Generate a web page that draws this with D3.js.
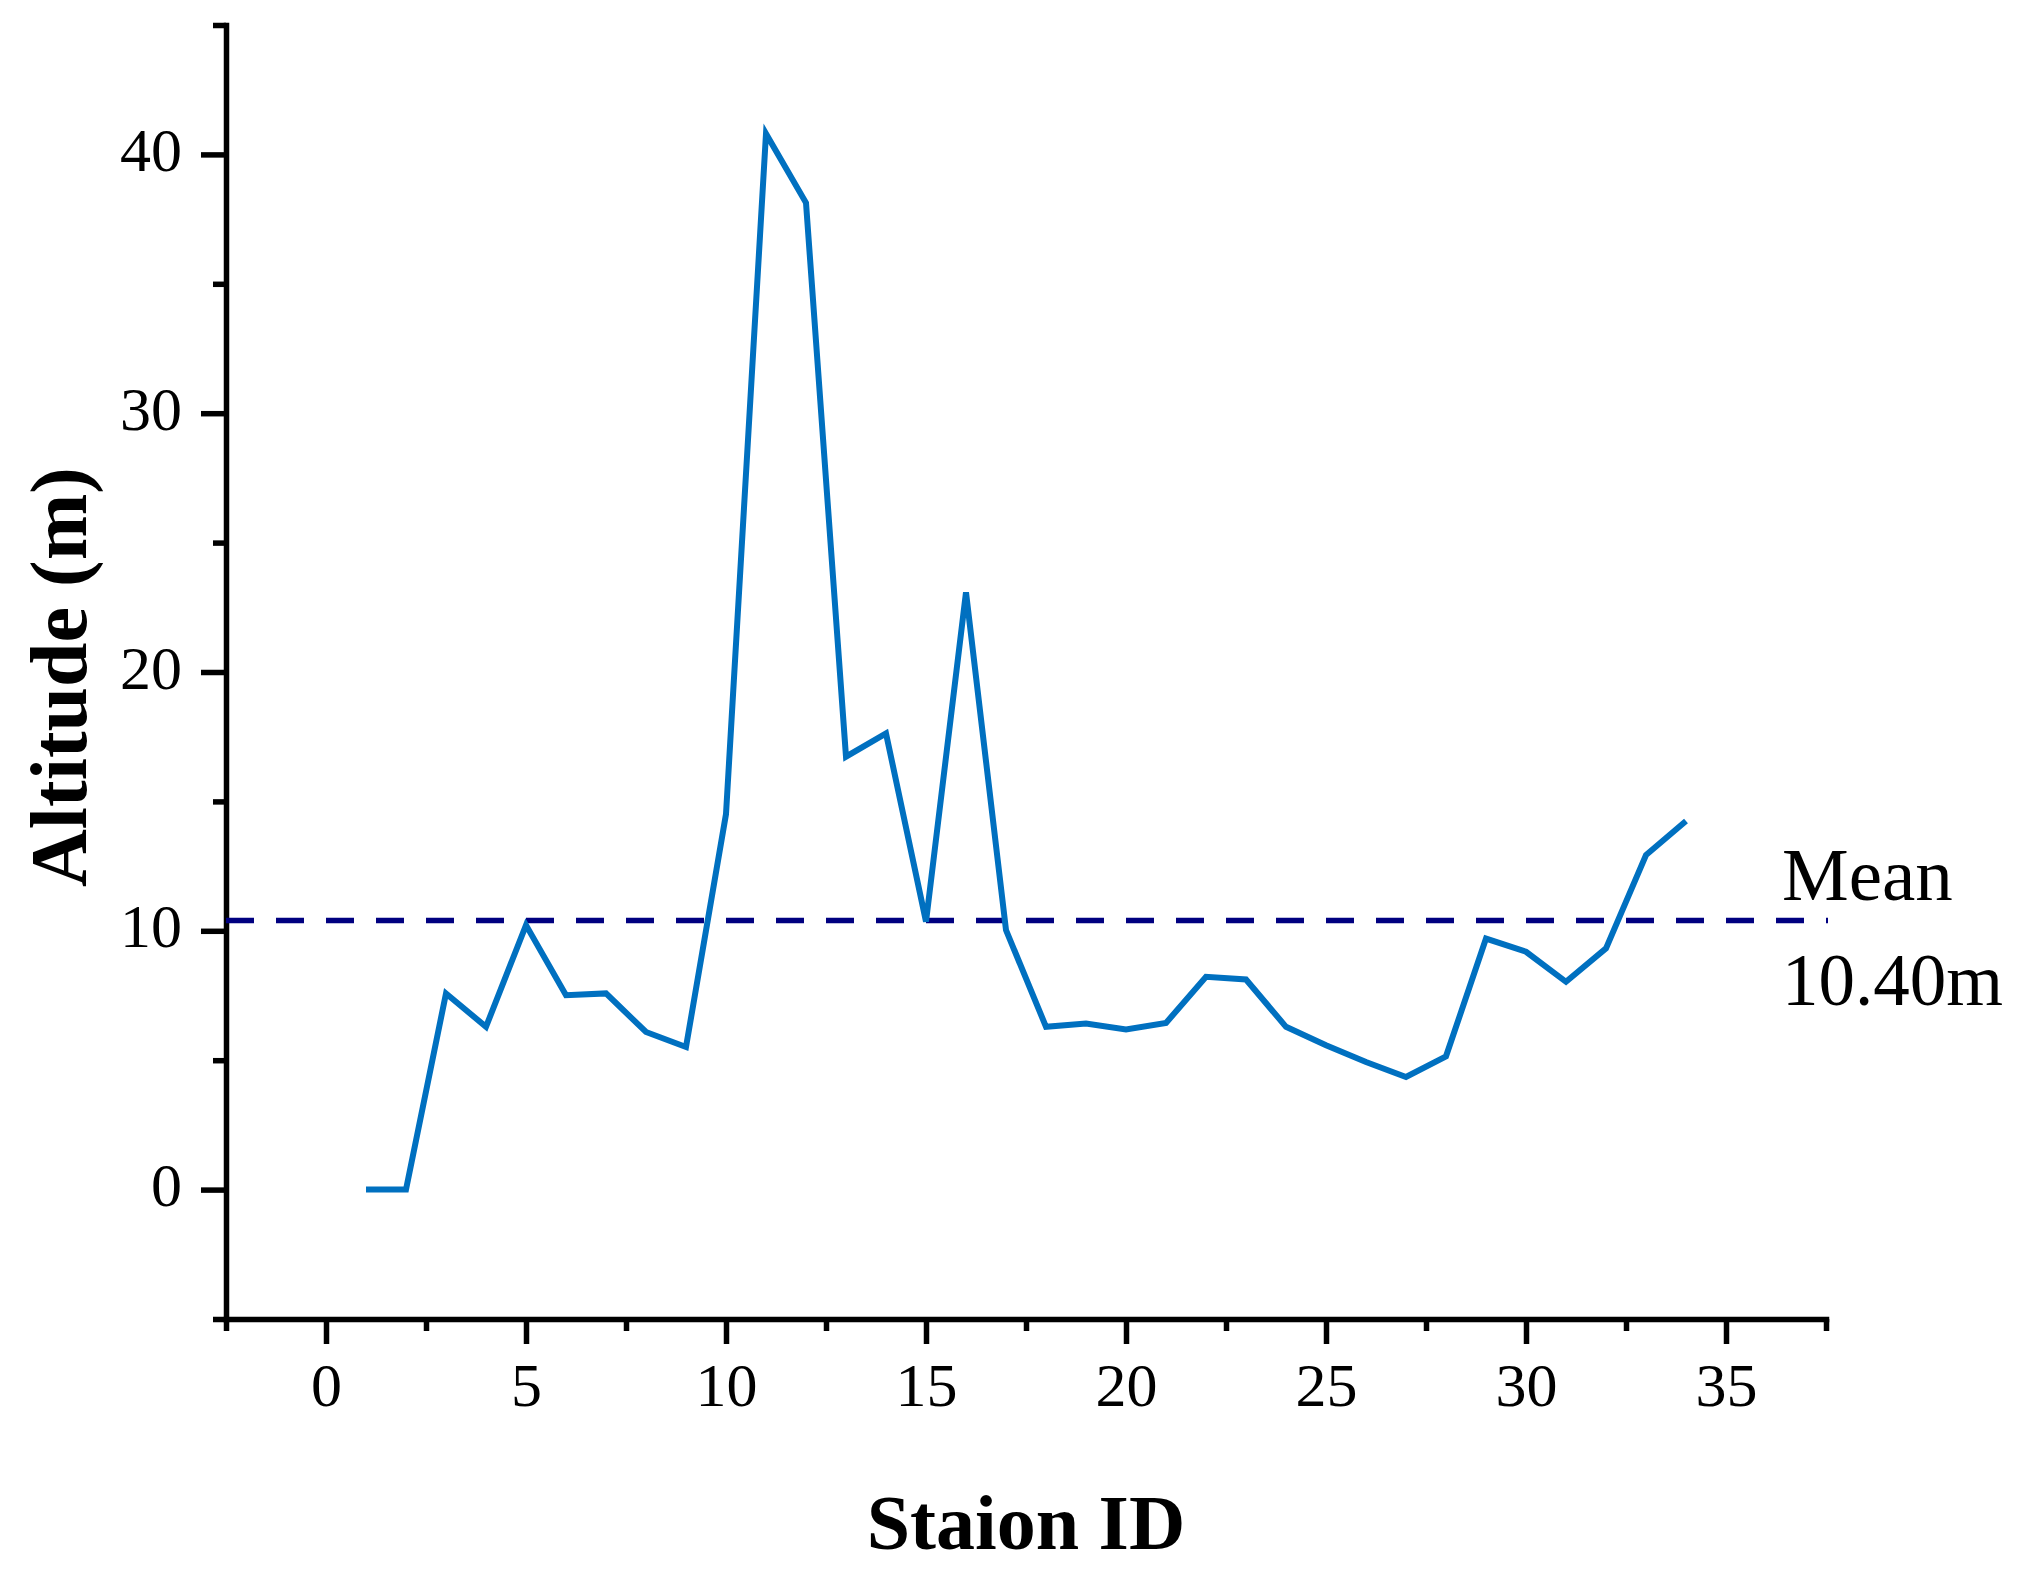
<!DOCTYPE html>
<html>
<head>
<meta charset="utf-8">
<script src="https://cdn.jsdelivr.net/npm/d3@7"></script>
<style>
  html, body { margin: 0; padding: 0; background: #ffffff; }
  svg { display: block; }
  text { font-family: "Palatino Linotype", "Book Antiqua", Palatino, "Liberation Serif", "DejaVu Serif", serif; fill: #000; }
</style>
</head>
<body>
<svg id="chart" width="2026" height="1579"></svg>
<script>
// ---- data ----
const stations = [1, 2, 3, 4, 5, 6, 7, 8, 9, 10, 11, 12, 13, 14, 15, 16, 17,
                  18, 19, 20, 21, 22, 23, 24, 25, 26, 27, 28, 29, 30, 31, 32, 33, 34];
const altitude = [0, 0, 7.58, 6.29, 10.22, 7.51, 7.58, 6.09, 5.51, 14.51, 40.8, 38.13,
                  16.73, 17.63, 10.35, 23.08, 10.03, 6.29, 6.42, 6.19, 6.44, 8.22, 8.12,
                  6.29, 5.58, 4.93, 4.35, 5.15, 9.70, 9.19, 8.03, 9.32, 12.93, 14.24];
const meanAltitude = 10.40;
const meanLabel = ["Mean", "10.40m"];
const xMajorTicks = [0, 5, 10, 15, 20, 25, 30, 35];
const xMinorTicks = [-2.5, 2.5, 7.5, 12.5, 17.5, 22.5, 27.5, 32.5, 37.5];
const yMajorTicks = [0, 10, 20, 30, 40];
const yMinorTicks = [-5, 5, 15, 25, 35, 45];
const xTitle = "Staion ID";
const yTitle = "Altitude (m)";

// ---- layout ----
const svg = d3.select("#chart");
const x = d3.scaleLinear().domain([-2.5, 37.5]).range([226, 1826]);
const y = d3.scaleLinear().domain([-5, 45]).range([1319, 25]);

const axisW = 5.5;

// X axis
const gx = svg.append("g").attr("transform", `translate(0,${y(-5)})`);
gx.call(d3.axisBottom(x).tickValues(xMajorTicks).tickSize(25).tickSizeOuter(0)
  .tickFormat(d3.format("d")));
const gxm = svg.append("g").attr("transform", `translate(0,${y(-5)})`);
gxm.call(d3.axisBottom(x).tickValues(xMinorTicks).tickSize(12).tickSizeOuter(0).tickFormat(""));
gxm.select(".domain").remove();

// Y axis
const gy = svg.append("g").attr("transform", `translate(${x(-2.5)},0)`);
gy.call(d3.axisLeft(y).tickValues(yMajorTicks).tickSize(25).tickSizeOuter(0)
  .tickFormat(d3.format("d")));
const gym = svg.append("g").attr("transform", `translate(${x(-2.5)},0)`);
gym.call(d3.axisLeft(y).tickValues(yMinorTicks).tickSize(13).tickSizeOuter(0).tickFormat(""));
gym.select(".domain").remove();

svg.selectAll(".domain").attr("stroke", "#000").attr("stroke-width", axisW)
  .attr("stroke-linecap", "square");
svg.selectAll(".tick line").attr("stroke", "#000").attr("stroke-width", axisW);

gx.selectAll(".tick text")
  .attr("font-size", 62).attr("y", 87).attr("dy", 0);
gy.selectAll(".tick text")
  .attr("font-size", 62).attr("x", -44).attr("dy", 16);
svg.selectAll(".tick text").attr("fill", "#000");
svg.selectAll("g").attr("font-family", null);

// Mean line
svg.append("line")
  .attr("x1", x(-2.5)).attr("x2", x(37.5) + 2)
  .attr("y1", y(meanAltitude)).attr("y2", y(meanAltitude))
  .attr("stroke", "#000080").attr("stroke-width", 5.5)
  .attr("stroke-dasharray", "28,22");

// Data line
const data = stations.map((s, i) => ({ s, v: altitude[i] }));
svg.append("path")
  .datum(data)
  .attr("fill", "none")
  .attr("stroke", "#0070C0")
  .attr("stroke-width", 6)
  .attr("stroke-linejoin", "miter")
  .attr("d", d3.line().x(d => x(d.s)).y(d => y(d.v)));

// Mean label
svg.append("text").attr("x", 1782).attr("y", 900).attr("font-size", 75).text(meanLabel[0]);
svg.append("text").attr("x", 1782).attr("y", 1005).attr("font-size", 73).text(meanLabel[1]);

// Axis titles
svg.append("text")
  .attr("x", (x(-2.5) + x(37.5)) / 2).attr("y", 1549)
  .attr("text-anchor", "middle").attr("font-size", 78).attr("font-weight", "bold")
  .text(xTitle);
svg.append("text")
  .attr("transform", `translate(86,677) rotate(-90)`)
  .attr("text-anchor", "middle").attr("font-size", 80).attr("font-weight", "bold")
  .text(yTitle);
</script>
</body>
</html>
